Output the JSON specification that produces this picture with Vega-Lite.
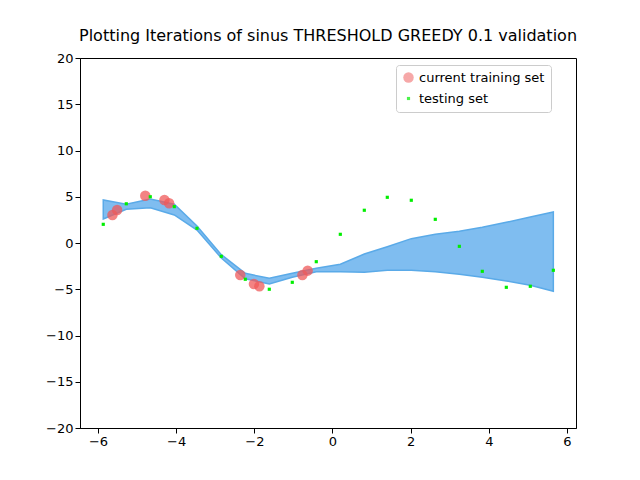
{"$schema":"https://vega.github.io/schema/vega-lite/v6.json","autosize":"none","width":496,"height":370,"padding":{"left":80,"top":58,"right":64,"bottom":52},"background":"white",
"title":{"text":"Plotting Iterations of sinus THRESHOLD GREEDY 0.1 validation","font":"DejaVu Sans","fontSize":16,"fontWeight":"normal","offset":8,"color":"black"},
"config":{"view":{"stroke":"black"},"axis":{"grid":false,"domainColor":"black","tickColor":"black","labelFont":"DejaVu Sans","labelFontSize":13,"labelColor":"black","tickSize":5,"title":null}},
"datasets":{"band":[{"x":-5.865,"lo":2.6,"hi":4.65},{"x":-5.276,"lo":3.64,"hi":4.18},{"x":-4.662,"lo":3.82,"hi":4.76},{"x":-4.048,"lo":3.03,"hi":4.2},{"x":-3.467,"lo":1.4,"hi":1.84},{"x":-2.845,"lo":-1.62,"hi":-1.26},{"x":-2.231,"lo":-3.86,"hi":-3.28},{"x":-1.617,"lo":-4.43,"hi":-3.82},{"x":-1.029,"lo":-3.7,"hi":-3.28},{"x":-0.415,"lo":-3.1,"hi":-2.74},{"x":0.2,"lo":-3.1,"hi":-2.3},{"x":0.814,"lo":-3.17,"hi":-1.19},{"x":1.402,"lo":-2.95,"hi":-0.4},{"x":2.016,"lo":-2.95,"hi":0.47},{"x":2.63,"lo":-3.1,"hi":0.94},{"x":3.245,"lo":-3.38,"hi":1.26},{"x":3.833,"lo":-3.7,"hi":1.7},{"x":4.447,"lo":-4.1,"hi":2.24},{"x":5.061,"lo":-4.57,"hi":2.81},{"x":5.65,"lo":-5.22,"hi":3.35}],
"pts":[{"s":"current training set","x":-5.63,"y":3.03},{"s":"current training set","x":-5.51,"y":3.57},{"s":"current training set","x":-4.79,"y":5.11},{"s":"current training set","x":-4.3,"y":4.65},{"s":"current training set","x":-4.18,"y":4.29},{"s":"current training set","x":-2.36,"y":-3.46},{"s":"current training set","x":-2.01,"y":-4.43},{"s":"current training set","x":-1.87,"y":-4.68},{"s":"current training set","x":-0.77,"y":-3.46},{"s":"current training set","x":-0.635,"y":-2.99},
{"s":"testing set","x":-5.865,"y":2.02},{"s":"testing set","x":-5.276,"y":4.24},{"s":"testing set","x":-4.662,"y":5.0},{"s":"testing set","x":-4.048,"y":3.93},{"s":"testing set","x":-3.467,"y":1.59},{"s":"testing set","x":-2.845,"y":-1.44},{"s":"testing set","x":-2.231,"y":-3.92},{"s":"testing set","x":-1.617,"y":-5.0},{"s":"testing set","x":-1.029,"y":-4.25},{"s":"testing set","x":-0.415,"y":-2.02},{"s":"testing set","x":0.2,"y":0.94},{"s":"testing set","x":0.814,"y":3.54},{"s":"testing set","x":1.402,"y":4.94},{"s":"testing set","x":2.016,"y":4.62},{"s":"testing set","x":2.63,"y":2.56},{"s":"testing set","x":3.245,"y":-0.36},{"s":"testing set","x":3.833,"y":-3.06},{"s":"testing set","x":4.447,"y":-4.79},{"s":"testing set","x":5.061,"y":-4.68},{"s":"testing set","x":5.65,"y":-2.95}]},
"layer":[
{"data":{"name":"band"},"mark":{"type":"area","color":"#7fbdf0","stroke":"#5aaae8","strokeWidth":1.5,"opacity":1},"encoding":{"x":{"field":"x","type":"quantitative","scale":{"domain":[-6.46,6.23],"nice":false},"axis":{"values":[-6,-4,-2,0,2,4,6]}},"y":{"field":"lo","type":"quantitative","scale":{"domain":[-20,20],"nice":false},"axis":{"values":[-20,-15,-10,-5,0,5,10,15,20]}},"y2":{"field":"hi"}}},
{"data":{"name":"pts"},"mark":{"type":"point","filled":true,"strokeWidth":0},"encoding":{"x":{"field":"x","type":"quantitative"},"y":{"field":"y","type":"quantitative"},
"color":{"field":"s","type":"nominal","scale":{"domain":["current training set","testing set"],"range":["#ef5a5a","#00ee00"]},"legend":{"title":null,"orient":"none","legendX":316,"legendY":7,"labelFont":"DejaVu Sans","labelFontSize":13,"labelColor":"black","fillColor":"white","strokeColor":"#cccccc","padding":6,"cornerRadius":3,"rowPadding":6,"symbolOpacity":0.8}},
"shape":{"field":"s","type":"nominal","scale":{"domain":["current training set","testing set"],"range":["circle","square"]}},
"size":{"field":"s","type":"nominal","scale":{"domain":["current training set","testing set"],"range":[110,10]}},
"opacity":{"field":"s","type":"nominal","scale":{"domain":["current training set","testing set"],"range":[0.75,1]},"legend":null}}}
]}
